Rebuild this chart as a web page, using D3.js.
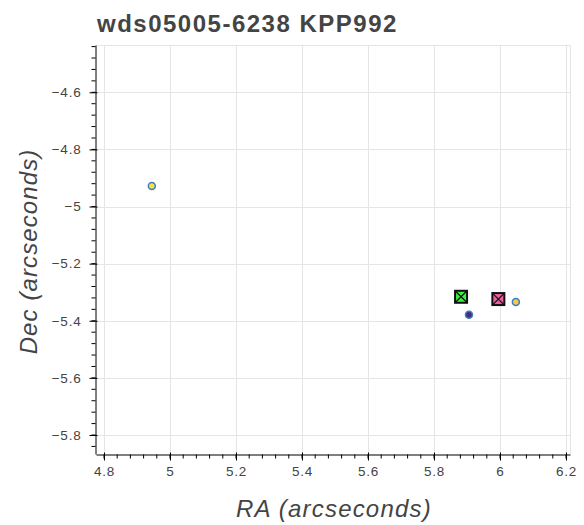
<!DOCTYPE html>
<html>
<head>
<meta charset="utf-8">
<script src="https://cdn.jsdelivr.net/npm/d3@7"></script>
<style>
  html, body { margin: 0; padding: 0; background: #fff; }
  svg text { font-family: "Liberation Sans", Arial, Helvetica, sans-serif; }
</style>
</head>
<body>
<svg id="chart" width="584" height="525"></svg>
<script>
// Measured component positions (arcseconds)
const titleText = "wds05005-6238 KPP992";
const xLabel = "RA (arcseconds)";
const yLabel = "Dec (arcseconds)";

const xTicks = [4.8, 5.0, 5.2, 5.4, 5.6, 5.8, 6.0, 6.2];
const yTicks = [-4.6, -4.8, -5.0, -5.2, -5.4, -5.6, -5.8];

// Measurement circles
const circleRA  = [4.945, 6.048, 5.906];
const circleDec = [-4.928, -5.334, -5.379];
const circleFill = ["#f5e04a", "#f2c94c", "#4a2a7a"];

// Boxed markers (square with X)
const boxRA  = [5.882, 5.995];
const boxDec = [-5.316, -5.324];
const boxFill = ["#3cf03c", "#e9609f"];

const svg = d3.select("#chart");
const pLeft = 96, pRight = 570, pTop = 45, pBottom = 454;

const x = d3.scaleLinear().domain([4.7758, 6.2121]).range([pLeft, pRight]);
const y = d3.scaleLinear().domain([-4.4344, -5.8665]).range([pTop, pBottom]);

const fmt = d => d3.format("")(+d.toFixed(1)).replace("-", "\u2212");

// grid
const grid = svg.append("g");
grid.selectAll("line.gx").data(xTicks).join("line")
  .attr("x1", d => Math.round(x(d)) + 0.5).attr("x2", d => Math.round(x(d)) + 0.5)
  .attr("y1", pTop).attr("y2", pBottom)
  .attr("stroke", "#e5e5e5").attr("stroke-width", 1);
grid.selectAll("line.gy").data(yTicks).join("line")
  .attr("y1", d => Math.round(y(d)) + 0.5).attr("y2", d => Math.round(y(d)) + 0.5)
  .attr("x1", pLeft).attr("x2", pRight)
  .attr("stroke", "#e5e5e5").attr("stroke-width", 1);

// outline (top / right)
svg.append("path")
  .attr("d", `M${pLeft},${pTop + 0.5}H${pRight + 0.5}V${pBottom}`)
  .attr("fill", "none").attr("stroke", "#e5e5e5").attr("stroke-width", 1);

// minor ticks
const xMinor = d3.range(Math.round(4.78 * 25), Math.round(6.21 * 25) + 1).map(v => v / 25)
  .filter(v => v >= x.domain()[0] && v <= x.domain()[1]);
const yMinor = d3.range(Math.round(-5.86 * 25), Math.round(-4.44 * 25) + 1).map(v => v / 25)
  .filter(v => v <= y.domain()[0] && v >= y.domain()[1]);

// x axis
const xAxis = d3.axisBottom(x).tickValues(xTicks).tickFormat(fmt)
  .tickSizeOuter(0).tickSizeInner(6).tickPadding(6);
const gx = svg.append("g").attr("transform", `translate(0,${pBottom + 0.5})`).call(xAxis);
gx.select(".domain").attr("stroke", "#000");
gx.selectAll(".tick line").attr("stroke", "#000").attr("y1", -2);
gx.selectAll(".tick text").attr("fill", "#444").attr("font-size", 13.5)
  .attr("letter-spacing", 0.8);
gx.selectAll("line.minor").data(xMinor).join("line").attr("class", "minor")
  .attr("x1", d => x(d)).attr("x2", d => x(d)).attr("y1", 0).attr("y2", 4)
  .attr("stroke", "#000");

// y axis
const yAxis = d3.axisLeft(y).tickValues(yTicks).tickFormat(fmt)
  .tickSizeOuter(0).tickSizeInner(6).tickPadding(8);
const gy = svg.append("g").attr("transform", `translate(${pLeft - 0.5},0)`).call(yAxis);
gy.select(".domain").attr("stroke", "#000");
gy.selectAll(".tick line").attr("stroke", "#000").attr("x1", 2);
gy.selectAll(".tick text").attr("fill", "#444").attr("font-size", 13.5)
  .attr("letter-spacing", 0.8);
gy.selectAll("line.minor").data(yMinor).join("line").attr("class", "minor")
  .attr("y1", d => y(d)).attr("y2", d => y(d)).attr("x1", 0).attr("x2", -4)
  .attr("stroke", "#000");

// title
svg.append("text").attr("x", 97).attr("y", 32)
  .attr("font-size", 24).attr("font-weight", "bold").attr("fill", "#444")
  .attr("letter-spacing", 1.5)
  .text(titleText);

// axis labels
svg.append("text").attr("x", (pLeft + pRight) / 2 + 1).attr("y", 517)
  .attr("text-anchor", "middle").attr("font-size", 24).attr("font-style", "italic")
  .attr("letter-spacing", 1.2)
  .attr("fill", "#444").text(xLabel);
svg.append("text").attr("transform", `translate(37,${(pTop + pBottom) / 2 + 2}) rotate(-90)`)
  .attr("text-anchor", "middle").attr("font-size", 24).attr("font-style", "italic")
  .attr("letter-spacing", 1.1)
  .attr("fill", "#444").text(yLabel);

// boxed markers
const s = 12;
const boxes = svg.append("g").selectAll("g").data(boxRA.map((d, i) => i)).join("g")
  .attr("transform", i => `translate(${x(boxRA[i])},${y(boxDec[i])})`);
boxes.append("rect").attr("x", -s / 2).attr("y", -s / 2).attr("width", s).attr("height", s)
  .attr("fill", i => boxFill[i]).attr("stroke", "#111").attr("stroke-width", 2);
boxes.append("path").attr("d", `M${-s/2},${-s/2}L${s/2},${s/2}M${s/2},${-s/2}L${-s/2},${s/2}`)
  .attr("stroke", "#111").attr("stroke-width", 1.2);

// circles
svg.append("g").selectAll("circle").data(circleRA.map((d, i) => i)).join("circle")
  .attr("cx", i => x(circleRA[i])).attr("cy", i => y(circleDec[i])).attr("r", 3.5)
  .attr("fill", i => circleFill[i]).attr("stroke", "#3a7dc0").attr("stroke-width", 1.5);
</script>
</body>
</html>
